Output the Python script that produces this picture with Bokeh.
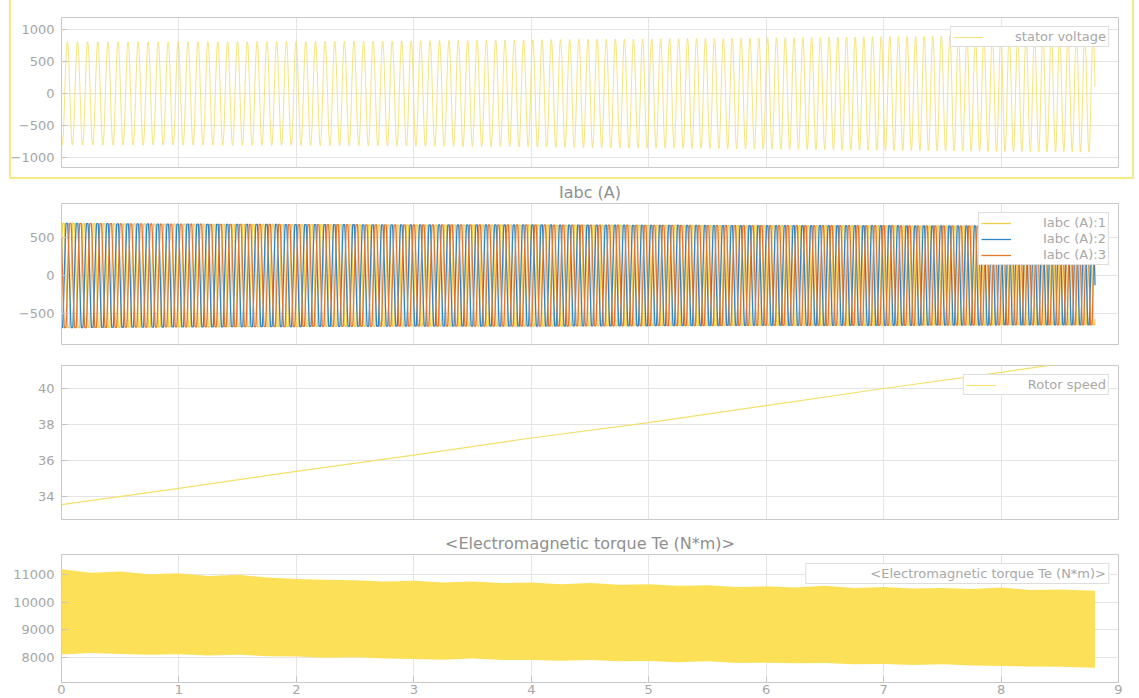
import numpy as np
from bokeh.plotting import figure
from bokeh.models import Legend, LegendItem, Range1d, FixedTicker, InlineStyleSheet
from bokeh.layouts import column
from bokeh.embed import file_html
from bokeh.resources import INLINE

# ---------------- data ----------------
knot_t = [0, 1, 2, 3, 4, 5, 6, 7, 8, 8.8]
# visible oscillation rate (cycles per second) at each knot
wave_cycles_per_s = [11.5, 11.8, 12.1, 12.4, 12.7, 13.0, 13.3, 13.6, 13.9, 14.1]
# stator voltage peak amplitude at each knot
voltage_peak = [810, 810, 815, 825, 840, 855, 870, 890, 910, 920]
# phase current peak amplitude at each knot
current_peak = [680, 670, 665, 660, 660, 655, 650, 650, 645, 645]

speed_t = [0, 1, 2, 3, 4, 5, 6, 7, 8, 8.8]
rotor_speed = [33.55, 34.45, 35.4, 36.3, 37.25, 38.1, 39.05, 40.0, 40.9, 41.65]

torque_t = [0, 0.25, 0.5, 0.75, 1, 1.25, 1.5, 1.75, 2, 2.25, 2.5, 2.75, 3, 3.25, 3.5, 3.75,
            4, 4.25, 4.5, 4.75, 5, 5.25, 5.5, 5.75, 6, 6.25, 6.5, 6.75, 7, 7.25, 7.5, 7.75,
            8, 8.25, 8.5, 8.8]
torque_upper = [11200, 11080, 11120, 11020, 11060, 10960, 11000, 10900, 10850, 10820,
                10800, 10760, 10780, 10720, 10760, 10700, 10720, 10660, 10700, 10640,
                10660, 10600, 10620, 10560, 10580, 10540, 10600, 10520, 10560, 10500,
                10520, 10480, 10540, 10450, 10470, 10420]
torque_lower = [8100, 8150, 8120, 8090, 8110, 8060, 8090, 8040, 8030, 7980,
                8000, 7950, 7940, 7910, 7950, 7900, 7900, 7870, 7900, 7850,
                7860, 7820, 7850, 7790, 7800, 7780, 7790, 7740, 7750, 7720,
                7740, 7700, 7680, 7660, 7650, 7620]

x_ticks = [0, 1, 2, 3, 4, 5, 6, 7, 8, 9]
volt_ticks = [-1000, -500, 0, 500, 1000]
cur_ticks = [-500, 0, 500]
speed_ticks = [34, 36, 38, 40]
torque_ticks = [8000, 9000, 10000, 11000]

# ---------------- reconstruct the waveforms ----------------
t = np.linspace(0, 8.8, 8801)
freq = np.interp(t, knot_t, wave_cycles_per_s)
phase = 2 * np.pi * np.cumsum(freq) * (t[1] - t[0])
volt = np.interp(t, knot_t, voltage_peak) * np.sin(phase + 4.2)
camp = np.interp(t, knot_t, current_peak)
ia = camp * np.clip(1.15 * np.sin(phase + 0.3), -1, 1)
ib = camp * np.clip(1.15 * np.sin(phase + 0.3 - 2 * np.pi / 3), -1, 1)
ic = camp * np.clip(1.15 * np.sin(phase + 0.3 + 2 * np.pi / 3), -1, 1)

FONT = "DejaVu Sans"
TICK_COLOR = "#a6a6a6"
GRID_COLOR = "#e4e4e4"
FRAME_COLOR = "#c9c9c9"
X_RANGE = Range1d(0, 9)
W = 1134


def make_fig(height, yr, yticks, top, bottom, show_x=False, title=None):
    p = figure(width=W, height=height, x_range=X_RANGE, y_range=yr,
               output_backend="svg", toolbar_location=None,
               min_border_left=61, min_border_right=16,
               min_border_top=top, min_border_bottom=bottom)
    if title:
        p.title.text = title
        p.title.align = "center"
        p.title.text_color = "#8f8f8f"
        p.title.text_font = FONT
        p.title.text_font_style = "normal"
        p.title.text_font_size = "16px"
        p.title.standoff = 4
    p.outline_line_color = FRAME_COLOR
    p.background_fill_color = "white"
    p.border_fill_color = "white"
    p.xgrid.ticker = FixedTicker(ticks=x_ticks)
    p.ygrid.ticker = FixedTicker(ticks=yticks)
    p.xgrid.grid_line_color = GRID_COLOR
    p.ygrid.grid_line_color = GRID_COLOR
    p.xaxis.ticker = FixedTicker(ticks=x_ticks)
    p.yaxis.ticker = FixedTicker(ticks=yticks)
    for ax in (p.xaxis[0], p.yaxis[0]):
        ax.axis_line_color = None
        ax.major_tick_line_color = "#c4c4c4"
        ax.major_tick_in = 6
        ax.major_tick_out = 0
        ax.minor_tick_line_color = None
        ax.major_label_text_color = TICK_COLOR
        ax.major_label_text_font = FONT
        ax.major_label_text_font_size = "13px"
    p.yaxis.major_label_standoff = 7
    p.xaxis.major_label_standoff = 2
    p.xaxis.visible = show_x
    return p


def add_legend(p, items):
    lg = Legend(items=[LegendItem(label=l, renderers=[r]) for l, r in items],
                location="top_right", orientation="vertical",
                border_line_color="#bdbdbd", border_line_width=1,
                background_fill_color="white", background_fill_alpha=1.0,
                label_text_color="#a8a8a8", label_text_font=FONT,
                label_text_font_size="13px", glyph_width=30, glyph_height=12,
                label_height=12, label_standoff=32, padding=2, spacing=1,
                margin=9)
    p.add_layout(lg)


# ---- panel 1: stator voltage ----
p1 = make_fig(177, Range1d(-1160, 1190), volt_ticks, top=17, bottom=10)
r1 = p1.line(t, volt, line_color="#F5E06A", line_width=1, line_alpha=0.9)
add_legend(p1, [("stator voltage", r1)])
# yellow selection frame around the first scope panel (open at the top)
frame_css = InlineStyleSheet(css="""
:host { position: relative; overflow: visible; }
:host::after {
  content: ""; position: absolute; left: 9px; top: 0px; width: 1125px; height: 179px;
  border-style: solid; border-color: #F7EA86; border-width: 0 2px 2px 2px;
  box-sizing: border-box; pointer-events: none; z-index: 10;
}
""")
p1.stylesheets = [frame_css]

# ---- panel 2: currents ----
p2 = make_fig(177, Range1d(-900, 940), cur_ticks, top=26, bottom=10, title="Iabc (A)")
ra_ = p2.line(t, ia, line_color="#F4CE48", line_width=1.3)
rb_ = p2.line(t, ib, line_color="#2F86C8", line_width=1.3)
rc_ = p2.line(t, ic, line_color="#E4762E", line_width=1.3)
add_legend(p2, [("Iabc (A):1", ra_), ("Iabc (A):2", rb_), ("Iabc (A):3", rc_)])

# ---- panel 3: rotor speed ----
p3 = make_fig(175, Range1d(32.72, 41.28), speed_ticks, top=11, bottom=10)
r3 = p3.line(speed_t, rotor_speed, line_color="#F5E06A", line_width=1.2)
add_legend(p3, [("Rotor speed", r3)])

# ---- panel 4: torque ----
p4 = make_fig(169, Range1d(7080, 11740), torque_ticks, top=24, bottom=16,
              show_x=True, title="<Electromagnetic torque Te (N*m)>")
p4.varea(x=torque_t, y1=torque_lower, y2=torque_upper, fill_color="#FCE158")
r4l = p4.line(x=[], y=[], line_color="#F6DE5A", line_width=1.3)
add_legend(p4, [("<Electromagnetic torque Te (N*m)>", r4l)])

layout = column(p1, p2, p3, p4, spacing=0)
open("out.html", "w").write(file_html(layout, INLINE))
